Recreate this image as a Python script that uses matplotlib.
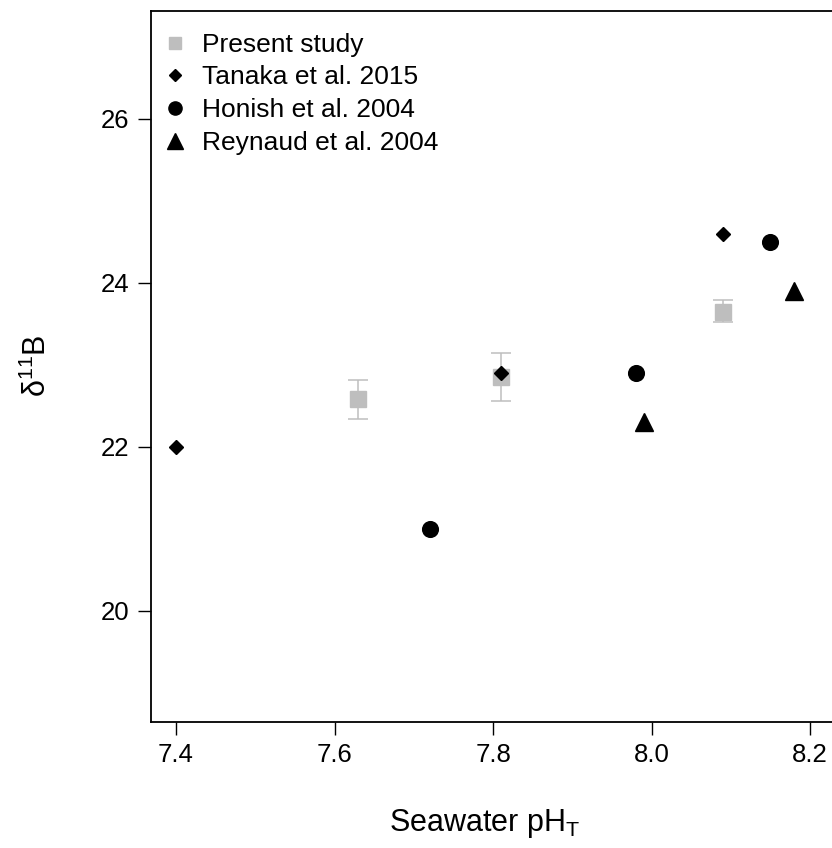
import matplotlib
matplotlib.use("Agg")
import matplotlib.pyplot as plt
from matplotlib.lines import Line2D

plt.rcParams['font.family'] = ['Liberation Sans', 'DejaVu Sans']

# Present study (mean with error bar limits)
present_ph = [7.63, 7.81, 8.09]
present_d11b = [22.58, 22.85, 23.65]
present_err_low = [0.24, 0.29, 0.12]
present_err_high = [0.24, 0.29, 0.14]

tanaka_ph = [7.40, 7.81, 8.09]
tanaka_d11b = [22.0, 22.9, 24.6]

honish_ph = [7.72, 7.98, 8.15]
honish_d11b = [21.0, 22.9, 24.5]

reynaud_ph = [7.99, 8.18]
reynaud_d11b = [22.3, 23.9]

x_ticks = [7.4, 7.6, 7.8, 8.0, 8.2]
y_ticks = [20, 22, 24, 26]
legend_labels = ['Present study', 'Tanaka et al. 2015', 'Honish et al. 2004', 'Reynaud et al. 2004']

fig = plt.figure(figsize=(8.32, 8.48), dpi=100)
ax = fig.add_axes([150.7 / 832, 126.3 / 848, 699 / 832, 711 / 848])

gray = '#bebebe'
ax.errorbar(present_ph, present_d11b, yerr=[present_err_low, present_err_high],
            fmt='s', color=gray, ecolor=gray, elinewidth=1.1, capsize=7,
            capthick=1.1, markersize=11.5, zorder=2)
ax.plot(tanaka_ph, tanaka_d11b, 'D', color='black', markersize=7.6,
        linestyle='none', zorder=3)
ax.plot(honish_ph, honish_d11b, 'o', color='black', markersize=11.3,
        linestyle='none', zorder=3)
ax.plot(reynaud_ph, reynaud_d11b, '^', color='black', markersize=13.5,
        linestyle='none', zorder=3)

ax.set_xlim(7.368, 8.25)
ax.set_ylim(18.65, 27.32)
ax.set_xticks(x_ticks)
ax.set_xticklabels(['7.4', '7.6', '7.8', '8.0', '8.2'])
ax.set_yticks(y_ticks)
ax.tick_params(direction='out', length=9.4, width=1, labelsize=18.5, pad=6)
for s in ax.spines.values():
    s.set_linewidth(1.3)

ax.set_xlabel('Seawater pH$_\\mathregular{T}$', fontsize=22)
ax.xaxis.set_label_coords(0.477, -0.12)
ax.set_ylabel('δ$^{\\mathregular{11}}$B', fontsize=22, labelpad=34)

# legend with plain markers
handles = [
    Line2D([], [], marker='s', color=gray, linestyle='none', markersize=9),
    Line2D([], [], marker='D', color='black', linestyle='none', markersize=6),
    Line2D([], [], marker='o', color='black', linestyle='none', markersize=9.5),
    Line2D([], [], marker='^', color='black', linestyle='none', markersize=11),
]
ax.legend(handles, legend_labels, loc='upper left', bbox_to_anchor=(0.016, 0.969),
          frameon=False, fontsize=19, handletextpad=0.52, labelspacing=0.33,
          borderaxespad=0, borderpad=0, handlelength=1.0)

fig.savefig('out.png', dpi=100)
